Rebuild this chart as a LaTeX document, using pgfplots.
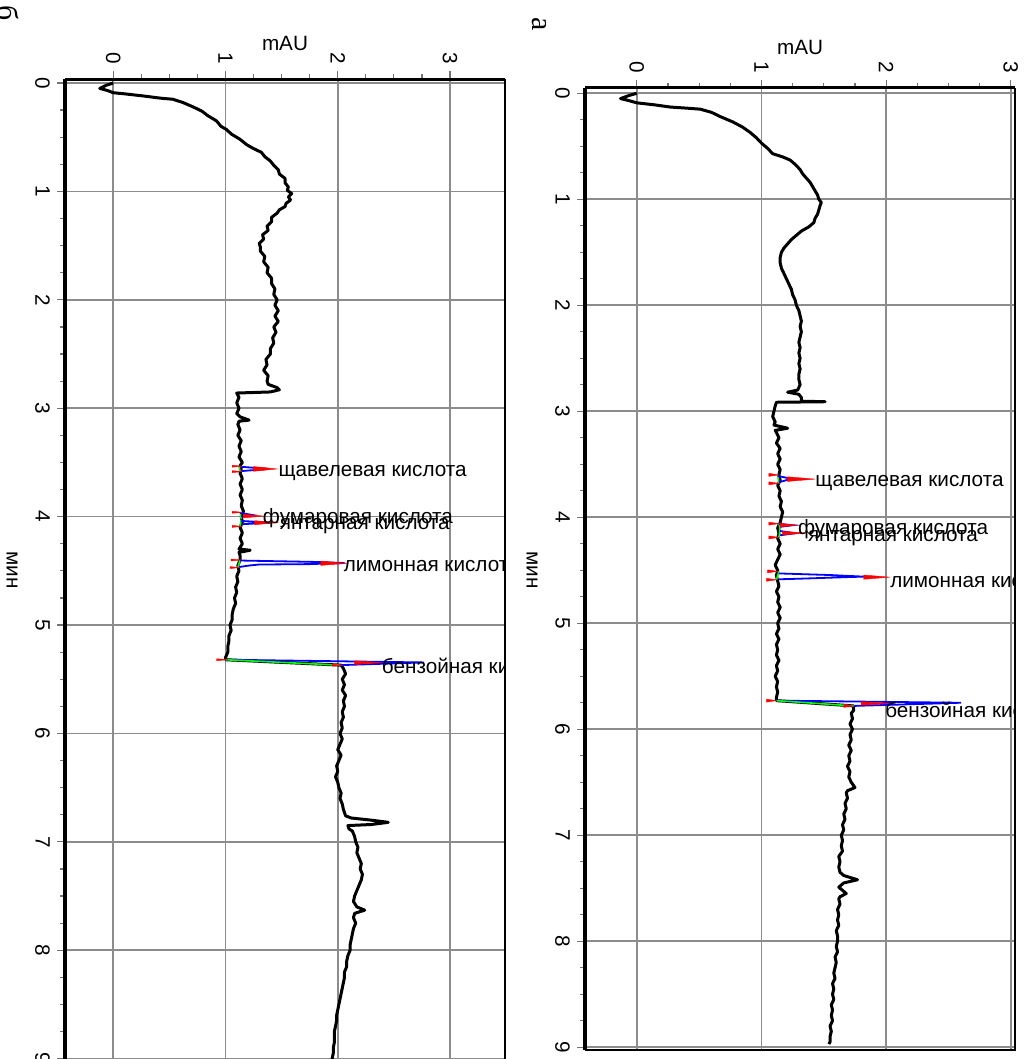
\documentclass[border=0pt]{standalone}
\usepackage{pgfplots}
\pgfplotsset{compat=1.18}
\usepackage{pgfplotstable}
\usepackage{fontspec}
\setmainfont{Liberation Sans}
\newfontfamily\serifL{Liberation Serif}
\newcommand\lbl{\fontsize{10.35}{12}\selectfont}

\pgfplotstableread{
t v
0.00 0.00
0.02 -0.06
0.05 -0.12
0.07 -0.05
0.09 0.00
0.10 0.10
0.12 0.27
0.14 0.42
0.15 0.53
0.18 0.62
0.22 0.71
0.26 0.79
0.30 0.84
0.35 0.92
0.40 0.96
0.43 1.01
0.47 1.05
0.52 1.13
0.57 1.19
0.60 1.24
0.64 1.32
0.68 1.35
0.72 1.40
0.76 1.43
0.80 1.47
0.84 1.48
0.88 1.53
0.92 1.53
0.96 1.56
0.99 1.55
1.02 1.59
1.05 1.56
1.08 1.58
1.11 1.54
1.14 1.53
1.17 1.48
1.20 1.46
1.24 1.41
1.28 1.41
1.32 1.37
1.36 1.38
1.40 1.33
1.44 1.34
1.48 1.30
1.51 1.31
1.55 1.31
1.60 1.35
1.65 1.34
1.70 1.38
1.75 1.37
1.80 1.41
1.85 1.41
1.90 1.44
1.95 1.43
2.00 1.46
2.05 1.44
2.10 1.47
2.15 1.44
2.20 1.47
2.25 1.43
2.30 1.45
2.35 1.42
2.40 1.43
2.45 1.40
2.50 1.40
2.55 1.36
2.60 1.37
2.65 1.34
2.70 1.38
2.75 1.37
2.78 1.38
2.81 1.46
2.83 1.48
2.85 1.40
2.86 1.10
2.90 1.12
2.95 1.10
3.00 1.12
3.05 1.10
3.08 1.13
3.11 1.21
3.12 1.12
3.15 1.11
3.20 1.13
3.25 1.11
3.30 1.14
3.35 1.12
3.40 1.14
3.45 1.12
3.50 1.15
3.53 1.13
3.56 1.14
3.60 1.13
3.65 1.15
3.70 1.13
3.75 1.15
3.80 1.13
3.85 1.15
3.90 1.14
3.95 1.16
4.00 1.14
4.05 1.15
4.10 1.13
4.15 1.15
4.20 1.13
4.25 1.15
4.30 1.12
4.31 1.22
4.33 1.12
4.36 1.13
4.40 1.13
4.45 1.11
4.50 1.12
4.55 1.10
4.60 1.11
4.65 1.09
4.70 1.10
4.75 1.08
4.80 1.09
4.85 1.07
4.90 1.06
4.95 1.06
5.00 1.04
5.05 1.05
5.10 1.03
5.15 1.03
5.20 1.02
5.25 1.02
5.30 1.00
5.32 1.00
5.37 2.03
5.40 2.05
5.45 2.07
5.50 2.04
5.55 2.06
5.60 2.04
5.65 2.07
5.70 2.05
5.75 2.06
5.80 2.04
5.85 2.05
5.90 2.03
5.95 2.04
6.00 2.02
6.05 2.04
6.10 2.02
6.15 2.00
6.20 2.03
6.25 2.01
6.30 1.99
6.35 2.00
6.40 1.98
6.45 2.00
6.50 2.01
6.55 2.03
6.60 2.02
6.65 2.04
6.70 2.05
6.76 2.07
6.78 2.12
6.80 2.30
6.82 2.45
6.84 2.30
6.85 2.09
6.88 2.10
6.90 2.13
6.95 2.15
7.00 2.16
7.05 2.18
7.10 2.17
7.15 2.19
7.20 2.21
7.25 2.20
7.30 2.22
7.35 2.21
7.40 2.19
7.45 2.17
7.50 2.15
7.55 2.14
7.60 2.17
7.63 2.24
7.66 2.15
7.70 2.14
7.75 2.16
7.80 2.14
7.85 2.13
7.90 2.12
7.95 2.11
8.00 2.11
8.05 2.09
8.10 2.08
8.15 2.08
8.20 2.06
8.25 2.06
8.30 2.05
8.35 2.04
8.40 2.03
8.45 2.02
8.50 2.01
8.55 2.00
8.60 1.99
8.65 1.99
8.70 1.98
8.75 1.97
8.80 1.97
8.85 1.97
8.90 1.96
8.95 1.96
9.00 1.95
9.05 1.95
9.10 1.94
}\dataB

\pgfplotstableread{
t v
0.00 0.00
0.02 -0.06
0.05 -0.13
0.07 -0.06
0.09 0.00
0.11 0.15
0.13 0.27
0.14 0.40
0.15 0.51
0.18 0.60
0.22 0.67
0.27 0.77
0.32 0.85
0.37 0.91
0.42 0.96
0.47 1.00
0.52 1.05
0.57 1.09
0.60 1.17
0.63 1.23
0.67 1.27
0.72 1.31
0.76 1.33
0.80 1.36
0.84 1.39
0.88 1.41
0.92 1.43
0.96 1.45
1.00 1.46
1.03 1.48
1.06 1.47
1.10 1.46
1.14 1.45
1.18 1.43
1.22 1.42
1.26 1.38
1.30 1.32
1.34 1.28
1.38 1.24
1.42 1.21
1.46 1.18
1.50 1.16
1.55 1.15
1.60 1.15
1.65 1.16
1.70 1.18
1.75 1.20
1.80 1.22
1.85 1.24
1.90 1.25
1.95 1.27
2.00 1.28
2.05 1.30
2.10 1.31
2.15 1.32
2.20 1.31
2.25 1.32
2.30 1.31
2.35 1.30
2.40 1.31
2.45 1.30
2.50 1.31
2.55 1.30
2.60 1.31
2.65 1.30
2.70 1.30
2.75 1.31
2.80 1.29
2.82 1.21
2.84 1.30
2.87 1.32
2.905 1.32
2.91 1.51
2.915 1.12
2.95 1.11
3.00 1.10
3.05 1.09
3.10 1.11
3.13 1.10
3.16 1.21
3.18 1.11
3.20 1.12
3.25 1.14
3.30 1.12
3.35 1.15
3.40 1.13
3.45 1.15
3.50 1.13
3.55 1.15
3.60 1.14
3.65 1.15
3.70 1.13
3.75 1.15
3.80 1.14
3.85 1.16
3.90 1.15
3.95 1.17
4.00 1.16
4.05 1.15
4.10 1.13
4.15 1.14
4.20 1.13
4.25 1.15
4.30 1.13
4.35 1.15
4.40 1.13
4.45 1.11
4.50 1.13
4.55 1.12
4.60 1.13
4.65 1.14
4.70 1.12
4.75 1.14
4.80 1.13
4.85 1.15
4.90 1.13
4.95 1.15
5.00 1.13
5.05 1.14
5.10 1.12
5.15 1.14
5.20 1.12
5.25 1.13
5.30 1.12
5.35 1.14
5.40 1.12
5.45 1.13
5.50 1.11
5.55 1.13
5.60 1.12
5.65 1.13
5.70 1.12
5.73 1.12
5.78 1.74
5.82 1.74
5.85 1.72
5.90 1.73
5.95 1.71
6.00 1.73
6.05 1.71
6.10 1.72
6.15 1.70
6.20 1.72
6.25 1.70
6.30 1.71
6.35 1.69
6.40 1.71
6.45 1.70
6.50 1.72
6.55 1.75
6.58 1.69
6.60 1.68
6.65 1.69
6.70 1.67
6.75 1.68
6.80 1.66
6.85 1.67
6.90 1.65
6.95 1.66
7.00 1.64
7.05 1.65
7.10 1.64
7.15 1.65
7.20 1.62
7.25 1.63
7.30 1.62
7.35 1.63
7.38 1.66
7.42 1.77
7.45 1.66
7.49 1.62
7.52 1.65
7.55 1.68
7.58 1.63
7.60 1.62
7.65 1.63
7.70 1.61
7.75 1.62
7.80 1.61
7.85 1.62
7.90 1.60
7.95 1.61
8.00 1.61
8.05 1.60
8.10 1.61
8.15 1.59
8.20 1.60
8.25 1.59
8.30 1.58
8.35 1.59
8.40 1.57
8.45 1.58
8.50 1.57
8.55 1.58
8.60 1.56
8.65 1.57
8.70 1.56
8.75 1.57
8.80 1.55
8.85 1.56
8.90 1.55
8.95 1.55
8.97 1.54
}\dataA

\pgfplotsset{chrom/.style={
 scale only axis, anchor=north west,
 y dir=reverse,
 axis x line*=top, axis y line*=left,
 axis line style={-},
 x axis line style={line width=1.5pt},
 y axis line style={line width=2pt},
 xtick={0,1,2,3}, ytick={0,1,2,3,4,5,6,7,8,9},
 minor x tick num=3, minor y tick num=3,
 tick align=outside,
 major tick length=4pt, minor tick length=2.5pt,
 every tick/.style={black!55, line width=0.6pt},
 grid=major, major grid style={black!45, line width=0.8pt},
 /pgf/number format/assume math mode=true,
 ticklabel style={font=\lbl},
 xticklabel style={rotate=-90, anchor=east},
 yticklabel style={rotate=-90, anchor=north},
 clip=true,
},
trace/.style={black, line width=1.5pt, line join=round},
pk/.style={blue, line width=0.9pt},
bl/.style={green, line width=0.8pt},
rd/.style={draw=red, fill=red, line width=0.2pt},
}

\begin{document}
\begin{tikzpicture}
\useasboundingbox (0,0) rectangle (515pt,529.5pt);
\clip (0,0) rectangle (515pt,529.5pt);

% ---------- panel б ----------
\begin{axis}[chrom, name=pb,
 at={(32.5pt,489.85pt)}, width=220pt, height=495.1pt,
 xmin=-0.43, xmax=3.49, ymin=-0.034, ymax=9.1]
\addplot[trace] table[x=v,y=t] {\dataB};
% oxalic
\addplot[bl] coordinates {(1.12,3.535) (1.13,3.585)};
\addplot[pk] coordinates {(1.13,3.54) (1.30,3.553) (1.38,3.56) (1.30,3.567) (1.14,3.58)};
\addplot[rd] coordinates {(1.25,3.538) (1.46,3.56) (1.25,3.582) (1.25,3.538)};
\addplot[rd] coordinates {(1.06,3.526) (1.15,3.535) (1.06,3.544) (1.06,3.526)};
\addplot[rd] coordinates {(1.06,3.576) (1.15,3.585) (1.06,3.594) (1.06,3.576)};
% fumaric
\addplot[bl] coordinates {(1.13,3.96) (1.14,4.02)};
\addplot[pk] coordinates {(1.13,3.965) (1.24,3.985) (1.14,4.0)};
\addplot[rd] coordinates {(1.16,3.978) (1.34,3.995) (1.16,4.012) (1.16,3.978)};
\addplot[rd] coordinates {(1.06,3.951) (1.15,3.96) (1.06,3.969) (1.06,3.951)};
% succinic
\addplot[bl] coordinates {(1.14,4.03) (1.13,4.09)};
\addplot[pk] coordinates {(1.14,4.04) (1.40,4.055) (1.15,4.07)};
\addplot[rd] coordinates {(1.26,4.038) (1.47,4.056) (1.26,4.074) (1.26,4.038)};
\addplot[rd] coordinates {(1.06,4.081) (1.15,4.09) (1.06,4.099) (1.06,4.081)};
% citric
\addplot[bl] coordinates {(1.13,4.40) (1.11,4.47)};
\addplot[pk] coordinates {(1.13,4.405) (1.80,4.418) (2.06,4.428) (1.75,4.438) (1.30,4.442) (1.22,4.45) (1.12,4.465)};
\addplot[rd] coordinates {(1.85,4.41) (2.08,4.43) (1.85,4.45) (1.85,4.41)};
\addplot[rd] coordinates {(1.05,4.391) (1.14,4.40) (1.05,4.409) (1.05,4.391)};
\addplot[rd] coordinates {(1.04,4.461) (1.13,4.47) (1.04,4.479) (1.04,4.461)};
% benzoic
\addplot[pk] coordinates {(1.00,5.32) (2.77,5.345) (2.02,5.37)};
\addplot[bl] coordinates {(1.00,5.32) (2.02,5.37)};
\addplot[rd] coordinates {(2.15,5.33) (2.40,5.347) (2.15,5.364) (2.15,5.33)};
\addplot[rd] coordinates {(0.92,5.311) (1.02,5.32) (0.92,5.329) (0.92,5.311)};
\addplot[rd] coordinates {(1.95,5.361) (2.05,5.37) (1.95,5.379) (1.95,5.361)};
\node[anchor=west,inner sep=0pt,font=\lbl] at (axis cs:1.47,3.595) {щавелевая кислота};
\node[anchor=west,inner sep=0pt,font=\lbl] at (axis cs:1.33,4.01) {фумаровая кислота};
\node[anchor=west,inner sep=0pt,font=\lbl] at (axis cs:1.48,4.09) {янтарная кислота};
\node[anchor=west,inner sep=0pt,font=\lbl] at (axis cs:2.05,4.46) {лимонная кислота};
\node[anchor=west,inner sep=0pt,font=\lbl] at (axis cs:2.39,5.38) {бензойная кислота};
\end{axis}
\draw[black, line width=0.75pt] (pb.north east) -- (pb.south east);

% ---------- panel а ----------
\begin{axis}[chrom, name=pa,
 at={(292.5pt,485.5pt)}, width=214.8pt, height=481.2pt,
 xmin=-0.415, xmax=3.03, ymin=-0.05, ymax=9.03]
\addplot[trace] table[x=v,y=t] {\dataA};
% oxalic
\addplot[bl] coordinates {(1.13,3.60) (1.14,3.68)};
\addplot[pk] coordinates {(1.13,3.61) (1.22,3.632) (1.26,3.64) (1.20,3.65) (1.14,3.67)};
\addplot[rd] coordinates {(1.21,3.618) (1.43,3.64) (1.21,3.662) (1.21,3.618)};
\addplot[rd] coordinates {(1.06,3.586) (1.14,3.60) (1.06,3.614) (1.06,3.586)};
\addplot[rd] coordinates {(1.06,3.666) (1.14,3.68) (1.06,3.694) (1.06,3.666)};
% fumaric
\addplot[bl] coordinates {(1.14,4.06) (1.15,4.11)};
\addplot[pk] coordinates {(1.14,4.062) (1.25,4.075) (1.15,4.09)};
\addplot[rd] coordinates {(1.15,4.058) (1.29,4.075) (1.15,4.092) (1.15,4.058)};
\addplot[rd] coordinates {(1.06,4.046) (1.14,4.06) (1.06,4.074) (1.06,4.046)};
% succinic
\addplot[bl] coordinates {(1.15,4.11) (1.14,4.19)};
\addplot[pk] coordinates {(1.15,4.13) (1.27,4.15) (1.15,4.17)};
\addplot[rd] coordinates {(1.17,4.133) (1.36,4.15) (1.17,4.167) (1.17,4.133)};
\addplot[rd] coordinates {(1.06,4.176) (1.14,4.19) (1.06,4.204) (1.06,4.176)};
% citric
\addplot[bl] coordinates {(1.14,4.51) (1.12,4.59)};
\addplot[pk] coordinates {(1.14,4.53) (1.55,4.545) (1.82,4.56) (1.55,4.57) (1.30,4.58) (1.14,4.585)};
\addplot[rd] coordinates {(1.82,4.545) (2.03,4.565) (1.82,4.585) (1.82,4.545)};
\addplot[rd] coordinates {(1.05,4.496) (1.13,4.51) (1.05,4.524) (1.05,4.496)};
\addplot[rd] coordinates {(1.04,4.576) (1.12,4.59) (1.04,4.604) (1.04,4.576)};
% benzoic
\addplot[pk] coordinates {(1.12,5.73) (2.60,5.75) (1.74,5.78)};
\addplot[bl] coordinates {(1.12,5.73) (1.74,5.78)};
\addplot[rd] coordinates {(1.80,5.74) (2.05,5.757) (1.80,5.774) (1.80,5.74)};
\addplot[rd] coordinates {(1.04,5.716) (1.12,5.73) (1.04,5.744) (1.04,5.716)};
\addplot[rd] coordinates {(1.66,5.766) (1.74,5.78) (1.66,5.794) (1.66,5.766)};
\node[anchor=west,inner sep=0pt,font=\lbl] at (axis cs:1.43,3.68) {щавелевая кислота};
\node[anchor=west,inner sep=0pt,font=\lbl] at (axis cs:1.29,4.11) {фумаровая кислота};
\node[anchor=west,inner sep=0pt,font=\lbl] at (axis cs:1.37,4.20) {янтарная кислота};
\node[anchor=west,inner sep=0pt,font=\lbl] at (axis cs:2.03,4.61) {лимонная кислота};
\node[anchor=west,inner sep=0pt,font=\lbl] at (axis cs:1.99,5.82) {бензойная кислота};
\end{axis}
\draw[black, line width=1pt] (pa.north east) -- (pa.south east) -- (pa.south west);

% ---------- outer labels ----------
\node[font=\lbl] at (142.5pt,508pt) {mAU};
\node[font=\lbl] at (400pt,506pt) {mAU};
\node[font=\lbl, rotate=-90] at (6pt,244.5pt) {мин};
\node[font=\lbl, rotate=-90] at (266pt,244.5pt) {мин};
\node[font=\serifL\fontsize{15}{18}\selectfont, rotate=-90] at (4pt,523pt) {б};
\node[font=\serifL\fontsize{15}{18}\selectfont, rotate=-90] at (269.5pt,517.5pt) {а};
\end{tikzpicture}
\end{document}
